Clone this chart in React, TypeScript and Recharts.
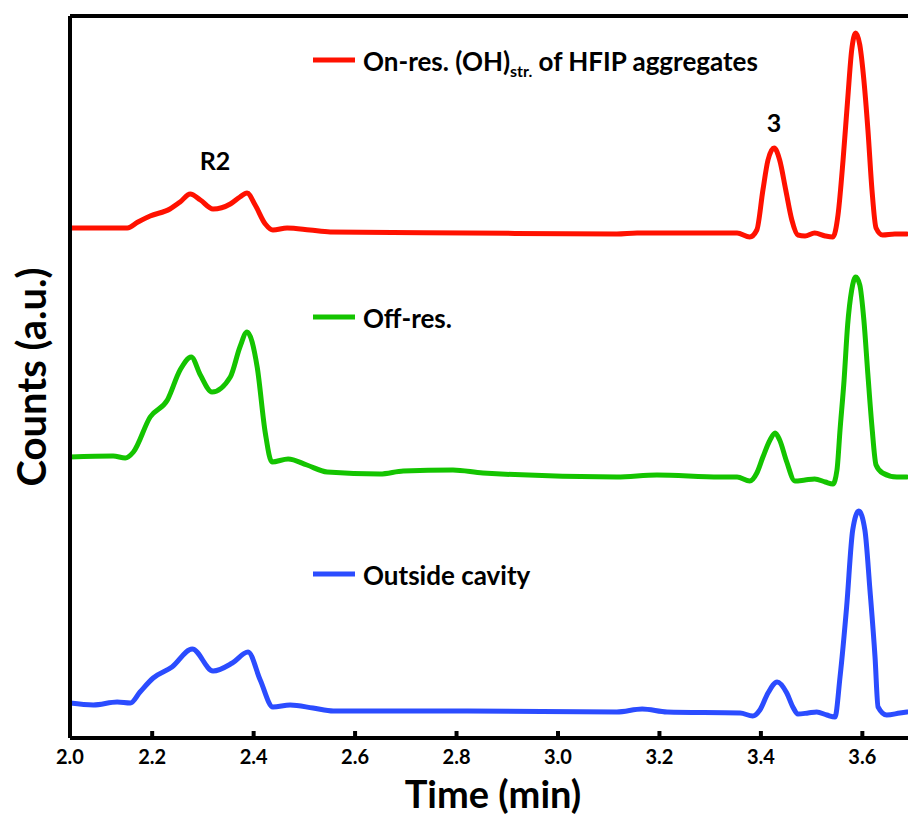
import React from 'react';
import { LineChart, Line, XAxis, YAxis, ReferenceLine, ReferenceDot } from 'recharts';

// ---- data (time in min, counts in a.u. above each trace's baseline) ----
const RED_T = [2.038, 2.098, 2.151, 2.172, 2.196, 2.235, 2.255, 2.275, 2.295, 2.320, 2.354, 2.373, 2.387, 2.403, 2.423, 2.438, 2.466, 2.511, 2.551, 2.821, 3.116, 3.156, 3.319, 3.353, 3.378, 3.392, 3.404, 3.414, 3.426, 3.437, 3.449, 3.461, 3.473, 3.487, 3.506, 3.527, 3.542, 3.552, 3.562, 3.571, 3.579, 3.587, 3.595, 3.603, 3.611, 3.619, 3.627, 3.640, 3.664, 3.688];
const RED_V = [4, 4, 4, 10, 16, 23, 30, 38, 32, 23, 28, 35, 39, 27, 8, 2, 4, 2, 0, -1, -2, -1, -1, -1, -5, 2, 42, 72, 84, 72, 42, 12, -3, -4, -1, -4, -5, 17, 72, 132, 182, 199, 187, 152, 102, 42, 4, -3, -2, -2];

const GREEN_T = [2.038, 2.123, 2.147, 2.163, 2.196, 2.230, 2.255, 2.277, 2.295, 2.318, 2.354, 2.373, 2.387, 2.407, 2.423, 2.436, 2.468, 2.505, 2.545, 2.649, 2.695, 2.793, 2.852, 3.116, 3.195, 3.319, 3.353, 3.378, 3.392, 3.404, 3.418, 3.428, 3.437, 3.451, 3.467, 3.487, 3.506, 3.527, 3.542, 3.550, 3.556, 3.564, 3.571, 3.579, 3.587, 3.595, 3.603, 3.611, 3.619, 3.627, 3.640, 3.668, 3.688];
const GREEN_V = [17, 18, 16, 22, 57, 74, 104, 117, 99, 82, 97, 127, 142, 107, 41, 12, 15, 9, 2, 0, 3, 4, 1, -3, -1, -3, -3, -7, 1, 17, 34, 41, 34, 12, -7, -6, -5, -8, -10, 4, 44, 94, 149, 184, 197, 189, 154, 99, 47, 9, 1, -3, -3];

const BLUE_T = [2.038, 2.084, 2.131, 2.157, 2.176, 2.202, 2.239, 2.279, 2.320, 2.358, 2.389, 2.413, 2.438, 2.472, 2.517, 2.557, 2.821, 3.116, 3.166, 3.215, 3.359, 3.384, 3.398, 3.414, 3.432, 3.451, 3.463, 3.473, 3.493, 3.510, 3.530, 3.546, 3.556, 3.569, 3.581, 3.593, 3.605, 3.615, 3.625, 3.631, 3.648, 3.674, 3.688];
const BLUE_V = [9, 7, 10, 9, 20, 34, 45, 63, 41, 49, 60, 32, 5, 7, 4, 1, 1, 0, 3, 0, -1, -4, 2, 19, 30, 19, 5, -2, -1, 0, -3, -5, 35, 105, 182, 201, 182, 122, 55, 5, -3, -1, 0];

// vertical stacking offsets of the three traces
const OFFSET_ON = 506;
const OFFSET_OFF = 264;
const OFFSET_OUT = 26;

const X_TICKS = [2.038, 2.2, 2.4, 2.6, 2.8, 3.0, 3.2, 3.4, 3.6];
const X_DOMAIN = [2.038, 3.69];
const Y_DOMAIN = [0, 722];

const SERIES_NAMES = ['On-res. (OH)', 'str.', ' of HFIP aggregates', 'Off-res.', 'Outside cavity'];
const PEAK_LABELS = ['R2', '3'];

const RED = '#ff1100';
const GREEN = '#14c400';
const BLUE = '#2b4cff';
const FONT = 'Lato, "Open Sans", sans-serif';

const build = (t: number[], v: number[], off: number) => t.map((x, i) => ({ t: x, v: v[i] + off }));
const redData = build(RED_T, RED_V, OFFSET_ON);
const greenData = build(GREEN_T, GREEN_V, OFFSET_OFF);
const blueData = build(BLUE_T, BLUE_V, OFFSET_OUT);

const XTick = (props: any) => {
  const { x, y, payload } = props;
  return (
    <g>
      <line x1={x} x2={x} y1={y - 7} y2={y} stroke="#000" strokeWidth={4} />
      <text x={x} y={y + 26} textAnchor="middle" fontFamily={FONT} fontWeight={700} fontSize={20} fill="#000">
        {Number(payload.value).toFixed(1)}
      </text>
    </g>
  );
};

const YTitle = (props: any) => {
  const vb = props.viewBox || { x: 0, y: 16, width: 70, height: 722 };
  const cx = vb.x + 46;
  const cy = vb.y + vb.height / 2;
  return (
    <text x={cx} y={cy} transform={`rotate(-90, ${cx}, ${cy})`} textAnchor="middle" fontFamily={FONT} fontWeight={700} fontSize={40} fill="#000">
      Counts (a.u.)
    </text>
  );
};

const XTitle = (props: any) => {
  const vb = props.viewBox || { x: 70, y: 738, width: 838, height: 79 };
  const cx = vb.x + vb.width / 2 + 4;
  return (
    <text x={cx} y={vb.y + 70} textAnchor="middle" fontFamily={FONT} fontWeight={700} fontSize={38} fill="#000">
      Time (min)
    </text>
  );
};

const legendText = { fontFamily: FONT, fontWeight: 700, fontSize: 26, fill: '#000' } as any;

export default function App() {
  return (
    <div style={{ position: 'absolute', left: 0, top: 0, width: 908, height: 817, background: '#fff' }}>
      <LineChart width={908} height={817} margin={{ top: 16, right: 0, bottom: 0, left: 0 }}>
        <XAxis
          dataKey="t"
          type="number"
          domain={X_DOMAIN}
          allowDataOverflow
          ticks={X_TICKS}
          interval={0}
          height={79}
          tickSize={0}
          tickMargin={0}
          tickLine={false}
          tick={<XTick />}
          axisLine={{ stroke: '#000', strokeWidth: 4 }}
          label={{ content: <XTitle /> } as any}
        />
        <YAxis
          type="number"
          domain={Y_DOMAIN}
          allowDataOverflow
          width={70}
          tick={false}
          tickLine={false}
          axisLine={{ stroke: '#000', strokeWidth: 4 }}
          label={{ content: <YTitle /> } as any}
        />
        <ReferenceLine y={Y_DOMAIN[1]} stroke="#000" strokeWidth={4} />
        <Line data={redData} dataKey="v" type="monotone" stroke={RED} strokeWidth={5} dot={false} isAnimationActive={false} strokeLinejoin="round" strokeLinecap="round" />
        <Line data={greenData} dataKey="v" type="monotone" stroke={GREEN} strokeWidth={5} dot={false} isAnimationActive={false} strokeLinejoin="round" strokeLinecap="round" />
        <Line data={blueData} dataKey="v" type="monotone" stroke={BLUE} strokeWidth={5} dot={false} isAnimationActive={false} strokeLinejoin="round" strokeLinecap="round" />
        <ReferenceDot x={2.324} y={OFFSET_ON + 39} r={0} fill="none" stroke="none"
          label={{ value: PEAK_LABELS[0], position: 'top', offset: 23, fontFamily: FONT, fontWeight: 700, fontSize: 25, fill: '#000' } as any} />
        <ReferenceDot x={3.426} y={OFFSET_ON + 84} r={0} fill="none" stroke="none"
          label={{ value: PEAK_LABELS[1], position: 'top', offset: 16, fontFamily: FONT, fontWeight: 700, fontSize: 25, fill: '#000' } as any} />
      </LineChart>
      <svg width={908} height={817} style={{ position: 'absolute', left: 0, top: 0, pointerEvents: 'none' }}>
        <line x1={313} x2={355} y1={60} y2={60} stroke={RED} strokeWidth={5} />
        <text x={363} y={71} {...legendText}>
          {SERIES_NAMES[0]}
          <tspan fontSize={16} dy={6}>{SERIES_NAMES[1]}</tspan>
          <tspan dy={-6}>{'\u00a0'}{SERIES_NAMES[2].trim()}</tspan>
        </text>
        <line x1={313} x2={355} y1={317} y2={317} stroke={GREEN} strokeWidth={5} />
        <text x={363} y={328} {...legendText}>{SERIES_NAMES[3]}</text>
        <line x1={313} x2={355} y1={574} y2={574} stroke={BLUE} strokeWidth={5} />
        <text x={363} y={585} {...legendText}>{SERIES_NAMES[4]}</text>
      </svg>
    </div>
  );
}
